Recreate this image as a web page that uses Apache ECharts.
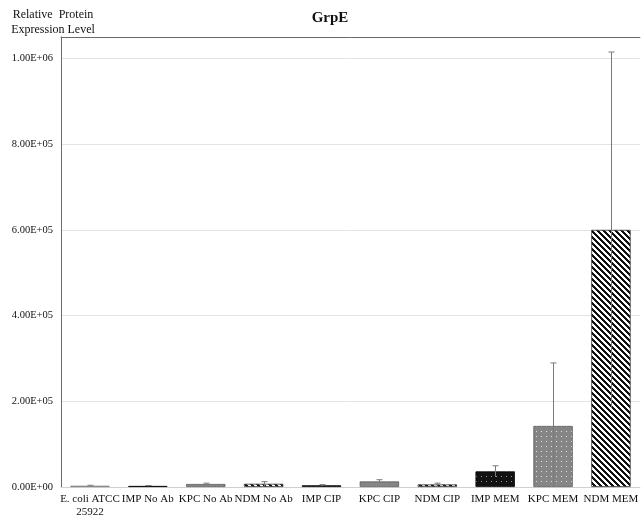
<!DOCTYPE html>
<html>
<head>
<meta charset="utf-8">
<script src="https://cdn.jsdelivr.net/npm/echarts@6/dist/echarts.min.js"></script>
<style>html,body{margin:0;padding:0;background:#fff;}#c{width:641px;height:519px;}</style>
</head>
<body>
<div id="c"></div>
<script>
const categories = ['E. coli ATCC\n25922', 'IMP No Ab', 'KPC No Ab', 'NDM No Ab', 'IMP CIP', 'KPC CIP', 'NDM CIP', 'IMP MEM', 'KPC MEM', 'NDM MEM'];
const values = [3000, 2500, 7000, 7500, 4000, 13000, 6000, 36500, 142500, 600000];
const errors = [1000, 1000, 2000, 5000, 1500, 4000, 3000, 13000, 147000, 415000];
const yTicks = [0, 200000, 400000, 600000, 800000, 1000000];

function dotPattern(bg, dot, step) {
  const c = document.createElement('canvas');
  c.width = step; c.height = step;
  const ctx = c.getContext('2d');
  ctx.fillStyle = bg; ctx.fillRect(0, 0, step, step);
  ctx.fillStyle = dot; ctx.fillRect(1, 1, 1, 1);
  return { image: c, repeat: 'repeat' };
}
function stripePattern() {
  const n = 6;
  const c = document.createElement('canvas');
  c.width = n; c.height = n;
  const ctx = c.getContext('2d');
  ctx.fillStyle = '#ffffff'; ctx.fillRect(0, 0, n, n);
  ctx.fillStyle = '#111111';
  for (let x = 0; x < n; x++) for (let y = 0; y < n; y++) {
    if (((x - y) % n + n) % n < 3) ctx.fillRect(x, y, 1, 1);
  }
  return { image: c, repeat: 'repeat' };
}
const styles = {
  ecoli: { color: dotPattern('#a6a6a6', '#e8e8e8', 4), borderColor: '#7f7f7f' },
  imp: { color: dotPattern('#111111', '#9a9a9a', 5), borderColor: '#000000' },
  kpc: { color: dotPattern('#858585', '#e0e0e0', 5), borderColor: '#595959' },
  ndm: { color: stripePattern(), borderColor: '#333333' }
};
const styleKeys = ['ecoli', 'imp', 'kpc', 'ndm', 'imp', 'kpc', 'ndm', 'imp', 'kpc', 'ndm'];

function fmtE(v) {
  if (v === 0) return '0.00E+00';
  const e = Math.floor(Math.log10(v) + 1e-9);
  const m = v / Math.pow(10, e);
  return m.toFixed(2) + 'E+' + String(e).padStart(2, '0');
}

const chart = echarts.init(document.getElementById('c'), null, { renderer: 'canvas' });
const option = {
  animation: false,
  backgroundColor: '#ffffff',
  textStyle: { fontFamily: 'Liberation Serif' },
  title: [
    { text: 'GrpE', left: 325, top: 6, textAlign: 'center',
      textStyle: { fontFamily: 'Liberation Serif', fontSize: 15, fontWeight: 'bold', color: '#111' } },
    { text: 'Relative  Protein\nExpression Level', left: 48, top: 3, textAlign: 'center',
      textStyle: { fontFamily: 'Liberation Serif', fontSize: 12, fontWeight: 'normal', color: '#111', lineHeight: 14.5 } }
  ],
  grid: { left: 61, right: -5, top: 37, bottom: 30, containLabel: false },
  xAxis: [
    {
      type: 'category', data: categories, position: 'bottom',
      axisLine: { lineStyle: { color: '#d0d0d0', width: 1 } },
      axisTick: { show: false },
      axisLabel: { interval: 0, fontSize: 11, lineHeight: 13, margin: 6, color: '#111', fontFamily: 'Liberation Serif' }
    },
    {
      type: 'category', data: categories, position: 'top',
      axisLine: { show: true, lineStyle: { color: '#6a6a6a', width: 1 } },
      axisTick: { show: false }, axisLabel: { show: false }
    }
  ],
  yAxis: {
    type: 'value', min: 0, max: 1050000, interval: 200000,
    axisLine: { show: true, lineStyle: { color: '#6a6a6a', width: 1 } },
    axisTick: { show: false },
    splitLine: { lineStyle: { color: '#e3e3e3', width: 1 } },
    axisLabel: {
      fontSize: 10.5, margin: 8, color: '#111', fontFamily: 'Liberation Serif',
      formatter: function (v) { return yTicks.indexOf(v) >= 0 ? fmtE(v) : ''; }
    }
  },
  series: [
    {
      type: 'bar', barWidth: '68%', xAxisIndex: 0,
      data: values.map(function (v, i) {
        const s = styles[styleKeys[i]];
        return { value: v, itemStyle: { color: s.color, borderColor: s.borderColor, borderWidth: 0.8 } };
      })
    },
    {
      type: 'custom', xAxisIndex: 0, z: 5,
      data: values.map(function (v, i) { return [i, v, errors[i]]; }),
      renderItem: function (params, api) {
        const i = api.value(0), v = api.value(1), e = api.value(2);
        const top = api.coord([i, v + e]);
        const bot = api.coord([i, Math.max(0, v - e)]);
        const st = { stroke: '#7a7a7a', lineWidth: 1 };
        const x = Math.round(top[0]) + 0.5;
        return {
          type: 'group',
          children: [
            { type: 'line', shape: { x1: x, y1: top[1], x2: x, y2: bot[1] }, style: st },
            { type: 'line', shape: { x1: x - 3, y1: top[1], x2: x + 3, y2: top[1] }, style: st }
          ]
        };
      }
    }
  ]
};
chart.setOption(option);
</script>
</body>
</html>
